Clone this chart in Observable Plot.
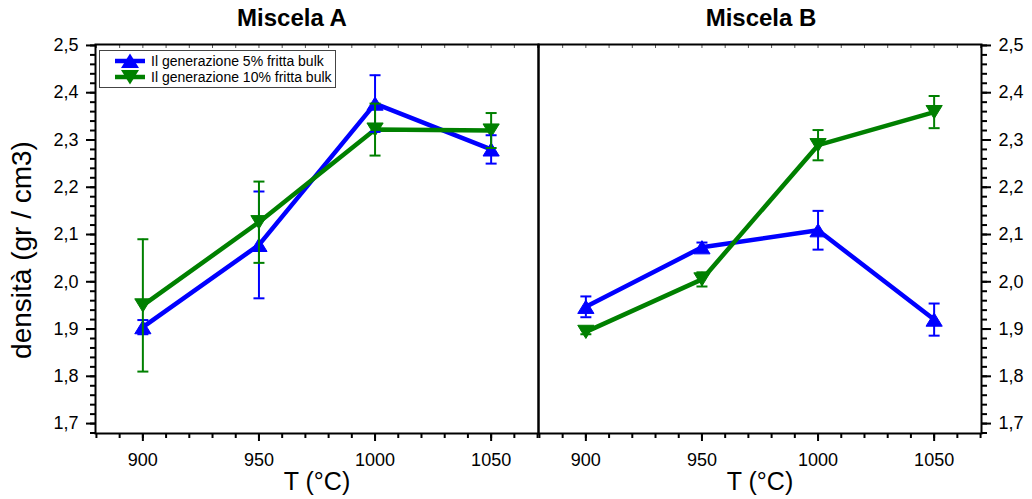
<!DOCTYPE html>
<html>
<head>
<meta charset="utf-8">
<script src="https://cdn.jsdelivr.net/npm/d3@7"></script>
<script src="https://cdn.jsdelivr.net/npm/@observablehq/plot@0.6"></script>
<style>
  html, body { margin: 0; padding: 0; background: #fff; }
  body { font-family: "Liberation Sans", Arial, Helvetica, sans-serif; color: #000; }
  #chart { position: relative; width: 1032px; height: 499px; overflow: hidden; background: #fff; }
  #chart > .panel { position: absolute; top: 0; }
  .title { position: absolute; top: 4px; font-weight: bold; font-size: 24px; line-height: 28px; transform: translateX(-50%); white-space: nowrap; }
  .xlabel { position: absolute; top: 466px; font-size: 25px; line-height: 30px; transform: translateX(-50%); white-space: nowrap; }
  .ylabel { position: absolute; left: 22px; top: 250px; font-size: 28px; line-height: 30px; white-space: nowrap; transform: translate(-50%, -50%) rotate(-90deg); }
  .legend { position: absolute; left: 99px; top: 50px; width: 237px; height: 38px; border: 1px solid #444; background: #fff; box-sizing: border-box; padding: 2px 0 0 14px; }
  .legend .row { display: flex; align-items: center; height: 16px; font-size: 14px; line-height: 16px; white-space: nowrap; }
  .legend svg { margin-right: 5px; flex: none; }
</style>
</head>
<body>
<div id="chart"></div>
<script>
// Firing temperatures (°C) and panel names
const temps = [900, 950, 1000, 1050];
const panelNames = ["Miscela A", "Miscela B"];
const seriesNames = ["Il generazione 5% fritta bulk", "Il generazione 10% fritta bulk"];
const seriesColors = ["#0000ff", "#008000"];

// Miscela A: bulk density (g/cm3) and standard deviation
const aDensity5 = [1.904, 2.078, 2.377, 2.280];
const aError5 = [0.015, 0.113, 0.060, 0.030];
const aDensity10 = [1.950, 2.126, 2.322, 2.320];
const aError10 = [0.140, 0.086, 0.055, 0.037];

// Miscela B: bulk density (g/cm3) and standard deviation
const bDensity5 = [1.947, 2.073, 2.109, 1.920];
const bError5 = [0.022, 0.010, 0.041, 0.034];
const bDensity10 = [1.894, 2.005, 2.289, 2.359];
const bError10 = [0.005, 0.015, 0.032, 0.034];

// Axis ticks
const xTicks = [900, 950, 1000, 1050];
const yTicks = [1.7, 1.8, 1.9, 2.0, 2.1, 2.2, 2.3, 2.4, 2.5];
const xMinorTicks = d3.range(880, 1071, 10);
const yMinorTicks = d3.range(84, 126).map(k => +(k * 0.02).toFixed(2));

function rowsFor(dens5, err5, dens10, err10) {
  const rows = [];
  temps.forEach((t, i) => rows.push({T: t, d: dens5[i], err: err5[i], series: seriesNames[0]}));
  temps.forEach((t, i) => rows.push({T: t, d: dens10[i], err: err10[i], series: seriesNames[1]}));
  return rows;
}
const panelRows = [
  rowsFor(aDensity5, aError5, aDensity10, aError10),
  rowsFor(bDensity5, bError5, bDensity10, bError10)
];

// Custom symbols: triangles centred on their bounding box, and a flat error-bar cap
const triUp = {
  draw(ctx, size) {
    const r = Math.sqrt(size / Math.PI), w = r * 1.35, h = r * 2.2;
    ctx.moveTo(0, -h / 2); ctx.lineTo(w, h / 2); ctx.lineTo(-w, h / 2); ctx.closePath();
  }
};
const triDown = {
  draw(ctx, size) {
    const r = Math.sqrt(size / Math.PI), w = r * 1.35, h = r * 2.2;
    ctx.moveTo(0, h / 2); ctx.lineTo(w, -h / 2); ctx.lineTo(-w, -h / 2); ctx.closePath();
  }
};
const cap = {
  draw(ctx, size) {
    const r = Math.sqrt(size / Math.PI);
    ctx.moveTo(-r, 0); ctx.lineTo(r, 0);
  }
};
const symbols = [triUp, triDown];

const commaFormat = d => d.toFixed(1).replace(".", ",");

function seriesMarks(rows) {
  const marks = [];
  seriesNames.forEach((name, i) => {
    const data = rows.filter(r => r.series === name);
    marks.push(Plot.line(data, {x: "T", y: "d", stroke: seriesColors[i], strokeWidth: 4.5}));
  });
  seriesNames.forEach((name, i) => {
    const data = rows.filter(r => r.series === name);
    marks.push(Plot.dot(data, {x: "T", y: "d", symbol: symbols[i], r: 6, fill: seriesColors[i], stroke: seriesColors[i], strokeWidth: 1}));
  });
  seriesNames.forEach((name, i) => {
    const data = rows.filter(r => r.series === name);
    marks.push(Plot.ruleX(data, {x: "T", y1: r => r.d - r.err, y2: r => r.d + r.err, stroke: seriesColors[i], strokeWidth: 2}));
    marks.push(Plot.dot(data, {x: "T", y: r => r.d - r.err, symbol: cap, r: 5.5, stroke: seriesColors[i], strokeWidth: 2}));
    marks.push(Plot.dot(data, {x: "T", y: r => r.d + r.err, symbol: cap, r: 5.5, stroke: seriesColors[i], strokeWidth: 2}));
  });
  return marks;
}

function panel(rows, yAnchor, width, marginLeft, marginRight) {
  return Plot.plot({
    width,
    height: 499,
    marginLeft,
    marginRight,
    marginTop: 44,
    marginBottom: 66,
    style: {background: "transparent", fontFamily: "'Liberation Sans', Arial, sans-serif", fontSize: "18px", color: "#000", overflow: "visible"},
    x: {domain: [879.6, 1070.4]},
    y: {domain: [1.679, 2.502]},
    marks: [
      Plot.axisX({ticks: xMinorTicks, tickSize: 5, strokeWidth: 2, text: null, label: null}),
      Plot.axisX({ticks: xTicks, tickSize: 8, strokeWidth: 2, tickPadding: 12, tickFormat: d => String(d), fontSize: 18, label: null}),
      Plot.axisX({anchor: "top", ticks: xMinorTicks, tickSize: -3, strokeWidth: 1, stroke: "#555", text: null, label: null}),
      Plot.axisY({anchor: yAnchor, ticks: yMinorTicks, tickSize: 5, strokeWidth: 2, text: null, label: null}),
      Plot.axisY({anchor: yAnchor, ticks: yTicks, tickSize: 9, strokeWidth: 2, tickPadding: 8, tickFormat: commaFormat, fontSize: 18, label: null}),
      Plot.frame({stroke: "#000", strokeWidth: 2}),
      ...seriesMarks(rows)
    ]
  });
}

const chart = document.getElementById("chart");

const left = panel(panelRows[0], "left", 541, 95, 3);
left.classList.add("panel");
left.style.left = "0px";
chart.appendChild(left);

const right = panel(panelRows[1], "right", 496, 2, 51);
right.classList.add("panel");
right.style.left = "536px";
chart.appendChild(right);

// Panel titles and axis labels
function addText(cls, text, x) {
  const el = document.createElement("div");
  el.className = cls;
  el.textContent = text;
  if (x !== undefined) el.style.left = x + "px";
  chart.appendChild(el);
}
addText("title", panelNames[0], 292);
addText("title", panelNames[1], 761);
addText("xlabel", "T (°C)", 317);
addText("xlabel", "T (°C)", 760);
addText("ylabel", "densità (gr / cm3)");

// Legend inside the first panel
const legend = document.createElement("div");
legend.className = "legend";
seriesNames.forEach((name, i) => {
  const row = document.createElement("div");
  row.className = "row";
  const sw = d3.create("svg").attr("width", 32).attr("height", 16);
  sw.append("line").attr("x1", 1).attr("x2", 31).attr("y1", 8).attr("y2", 8)
    .attr("stroke", seriesColors[i]).attr("stroke-width", 4.5);
  const pts = i === 0 ? "16,0.5 25,15 7,15" : "16,15.5 25,1 7,1";
  sw.append("polygon").attr("points", pts).attr("fill", seriesColors[i]);
  row.appendChild(sw.node());
  const label = document.createElement("span");
  label.textContent = name;
  row.appendChild(label);
  legend.appendChild(row);
});
chart.appendChild(legend);
</script>
</body>
</html>
